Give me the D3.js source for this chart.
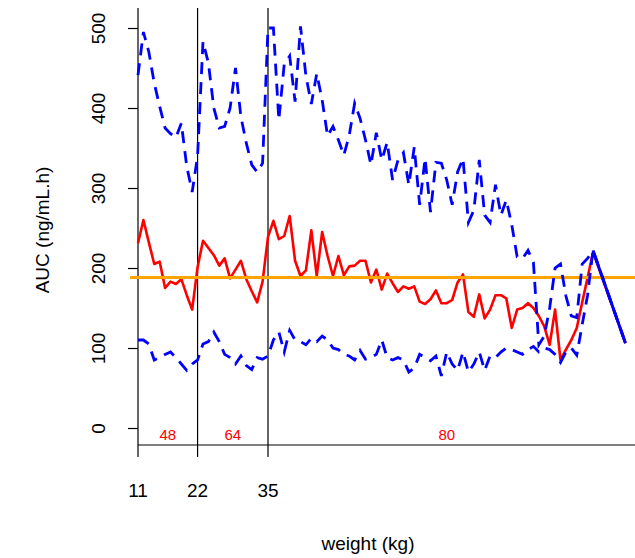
<!DOCTYPE html>
<html>
<head>
<meta charset="utf-8">
<script src="https://cdn.jsdelivr.net/npm/d3@7"></script>
<style>
body { margin: 0; background: #fff; }
text { font-family: "Liberation Sans", Arial, sans-serif; }
</style>
</head>
<body>
<svg width="635" height="558"></svg>
<script>
// weight (kg) at which the AUC summaries were computed
const weight = [11,12,13,14,15,16,17,18,19,20,21,22,23,24,25,26,27,28,29,30,
    31,32,33,34,35,36,37,38,39,40,41,42,43,44,45,46,47,48,49,50,
    51,52,53,54,55,56,57,58,59,60,61,62,63,64,65,66,67,68,69,70,
    71,72,73,74,75,76,77,78,79,80,81,82,83,84,85,86,87,88,89,90,
    91,92,93,94,95,101];

const aucMedian = [231,260,232,205,208,175,183,180,186,166,
    148,201,234,225,216,203,212,187,198,209,
    186,171,157,183,239,259,236,240,265,209,
    190,197,247,190,245,215,190,215,191,202,
    203,209,209,182,198,173,193,181,170,177,
    174,177,158,155,161,172,156,156,160,182,
    192,145,139,167,137,148,166,166,162,125,
    148,150,156,150,140,127,104,148,85,98,
    110,125,157,188,220,106];

const aucUpper = [441,495,470,431,402,375,368,363,381,327,
    295,340,483,456,400,375,377,400,450,389,
    356,329,320,331,500,500,385,455,465,408,
    502,440,405,443,410,365,377,360,341,366,
    406,387,360,329,369,335,357,310,335,344,
    304,351,279,337,270,332,331,310,279,320,
    337,257,272,335,266,257,304,266,285,254,
    214,212,222,207,104,115,150,200,205,165,
    140,138,205,212,222,106];

const aucLower = [110,110,105,85,88,92,95,88,80,72,
    80,85,105,108,120,108,92,88,80,90,
    78,73,88,86,90,110,120,95,122,110,
    108,104,112,108,115,110,100,98,92,90,
    85,97,86,88,92,110,88,85,88,85,
    70,75,92,88,84,90,65,95,80,72,
    95,70,80,95,72,90,88,95,100,98,
    95,92,98,102,95,100,98,92,82,95,
    100,91,129,166,222,106];

const targetAuc = 188;
const groupBreaks = [11, 22, 35, 101];
const groupLabels = ["48", "64", "80"];
const xTicks = [11, 22, 35];
const yTicks = [0, 100, 200, 300, 400, 500];

let width = 635;
let height = 558;
let svg = d3.select("svg")
            .attr("width", width)
            .attr("height", height);

let plotTop = 8, plotBottom = 445, plotLeft = 138;

let x = d3.scaleLinear().domain([11, 35]).range([138, 268]);
let y = d3.scaleLinear().domain([0, 500]).range([428, 28]);

let rows = weight.map((w, i) => ({w: w, med: aucMedian[i], up: aucUpper[i], lo: aucLower[i]}));

// vertical reference lines at the group cut points
svg.selectAll("line.vline")
    .data(xTicks)
    .enter()
    .append("line")
    .attr("class", "vline")
    .attr("x1", d => x(d)).attr("x2", d => x(d))
    .attr("y1", plotTop).attr("y2", plotBottom + 12)
    .attr("stroke", "#000")
    .attr("stroke-width", 1.2);

svg.append("line")
    .attr("x1", plotLeft).attr("x2", width)
    .attr("y1", plotBottom).attr("y2", plotBottom)
    .attr("stroke", "#000")
    .attr("stroke-width", 1.2);

// y axis
let yAxis = svg.append("g")
    .attr("transform", `translate(${plotLeft},0)`)
    .call(d3.axisLeft(y).tickValues(yTicks).tickSize(10).tickSizeOuter(0));
yAxis.select(".domain").remove();
yAxis.selectAll(".tick line").attr("stroke", "#000").attr("stroke-width", 1.2);
yAxis.selectAll(".tick text")
    .attr("x", null).attr("dy", null)
    .attr("transform", "translate(-33,0) rotate(-90)")
    .attr("text-anchor", "middle")
    .attr("font-size", 19)
    .attr("fill", "#000")
    .style("font-family", "'Liberation Sans', Arial, sans-serif");

// x tick labels
svg.selectAll("text.xtick")
    .data(xTicks)
    .enter()
    .append("text")
    .attr("class", "xtick")
    .attr("x", d => x(d))
    .attr("y", 497)
    .attr("text-anchor", "middle")
    .attr("font-size", 19)
    .text(d => d);

// axis titles
svg.append("text")
    .attr("x", 368).attr("y", 550)
    .attr("text-anchor", "middle")
    .attr("font-size", 19)
    .text("weight (kg)");

svg.append("text")
    .attr("transform", "translate(49,230) rotate(-90)")
    .attr("text-anchor", "middle")
    .attr("font-size", 19)
    .text("AUC (ng/mL.h)");

// group labels between cut points
svg.selectAll("text.group")
    .data(groupLabels)
    .enter()
    .append("text")
    .attr("class", "group")
    .attr("x", (d, i) => (x(groupBreaks[i]) + x(groupBreaks[i + 1])) / 2)
    .attr("y", 440)
    .attr("text-anchor", "middle")
    .attr("font-size", 15)
    .attr("fill", "#ff0000")
    .text(d => d);

let line = key => d3.line().x(d => x(d.w)).y(d => y(d[key]));

svg.append("path")
    .datum(rows)
    .attr("d", line("med"))
    .attr("fill", "none")
    .attr("stroke", "#ff0000")
    .attr("stroke-width", 2.6)
    .attr("stroke-linejoin", "round");

svg.append("line")
    .attr("x1", 130).attr("x2", width)
    .attr("y1", y(targetAuc)).attr("y2", y(targetAuc))
    .attr("stroke", "#ffa500")
    .attr("stroke-width", 3);

["up", "lo"].forEach(k => {
    svg.append("path")
        .datum(rows)
        .attr("d", line(k))
        .attr("fill", "none")
        .attr("stroke", "#0000ff")
        .attr("stroke-width", 2.8)
        .attr("stroke-dasharray", "12,8");
});

// where upper and lower coincide the two dashed lines fill each other in
let same = [];
for (let i = 0; i < rows.length - 1; i++) {
    if (rows[i].up === rows[i].lo && rows[i + 1].up === rows[i + 1].lo) {
        same.push([rows[i], rows[i + 1]]);
    }
}
svg.selectAll("path.same")
    .data(same)
    .enter()
    .append("path")
    .attr("class", "same")
    .attr("d", line("up"))
    .attr("fill", "none")
    .attr("stroke", "#0000ff")
    .attr("stroke-width", 2.8);
</script>
</body>
</html>
